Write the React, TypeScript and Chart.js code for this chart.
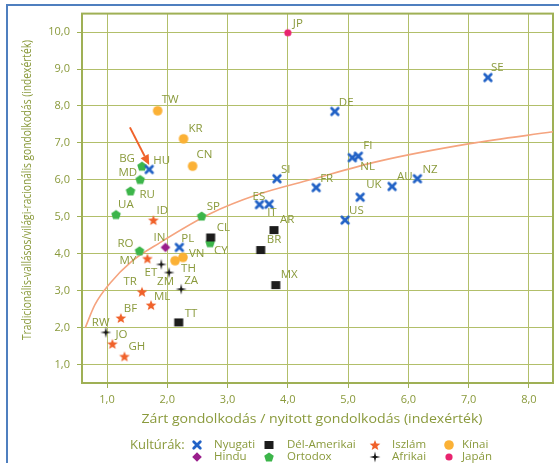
import React, { useEffect, useRef } from 'react';
import { Chart, registerables } from 'chart.js';

Chart.register(...registerables);

// ---------- axis ticks ----------
const X_TICKS = [1, 2, 3, 4, 5, 6, 7, 8];
const X_TICK_LABELS = ['1,0', '2,0', '3,0', '4,0', '5,0', '6,0', '7,0', '8,0'];
const Y_TICKS = [1, 2, 3, 4, 5, 6, 7, 8, 9, 10];
const Y_TICK_LABELS = ['1,0', '2,0', '3,0', '4,0', '5,0', '6,0', '7,0', '8,0', '9,0', '10,0'];

const X_TITLE = 'Zárt gondolkodás / nyitott gondolkodás (indexérték)';
const Y_TITLE = 'Tradicionális-vallásos/világi-racionális gondolkodás (indexérték)';
const LEGEND_TITLE = 'Kultúrák:';

// ---------- series ----------
const nyugatiCodes = ['HU', 'SI', 'DE', 'SE', 'FI', 'NL', 'FR', 'AU', 'NZ', 'UK', 'US', 'ES', 'IT', 'PL'];
const nyugatiX = [1.70, 3.82, 4.78, 7.32, 5.17, 5.07, 4.47, 5.73, 6.15, 5.20, 4.95, 3.53, 3.69, 2.20];
const nyugatiY = [6.28, 6.03, 7.85, 8.77, 6.64, 6.60, 5.79, 5.82, 6.03, 5.53, 4.91, 5.33, 5.34, 4.17];

const delAmCodes = ['AR', 'BR', 'MX', 'CL', 'TT'];
const delAmX = [3.77, 3.55, 3.80, 2.72, 2.19];
const delAmY = [4.64, 4.10, 3.15, 4.44, 2.14];

const iszlamCodes = ['ID', 'MY', 'TR', 'ML', 'BF', 'JO', 'GH'];
const iszlamX = [1.77, 1.67, 1.58, 1.73, 1.23, 1.09, 1.29];
const iszlamY = [4.91, 3.87, 2.97, 2.61, 2.26, 1.56, 1.22];

const kinaiCodes = ['TW', 'KR', 'CN', 'VN', 'TH'];
const kinaiX = [1.84, 2.27, 2.42, 2.26, 2.13];
const kinaiY = [7.87, 7.11, 6.37, 3.90, 3.81];

const hinduCodes = ['IN'];
const hinduX = [1.97];
const hinduY = [4.17];

const ortodoxCodes = ['BG', 'MD', 'RU', 'UA', 'SP', 'CY', 'RO'];
const ortodoxX = [1.58, 1.55, 1.39, 1.15, 2.57, 2.71, 1.54];
const ortodoxY = [6.37, 6.01, 5.70, 5.06, 5.02, 4.30, 4.08];

const afrikaiCodes = ['ET', 'ZM', 'ZA', 'RW'];
const afrikaiX = [1.90, 2.03, 2.23, 0.98];
const afrikaiY = [3.71, 3.49, 3.04, 1.87];

const japanCodes = ['JP'];
const japanX = [4.0];
const japanY = [9.98];

// trend curve
const trendX = [0.64, 0.8, 1.05, 1.4, 1.88, 2.71, 3.5, 4.37, 5.5, 7.02, 8.4];
const trendY = [2.0, 2.62, 3.2, 3.78, 4.3, 5.08, 5.6, 6.0, 6.5, 6.98, 7.3];

// annotation arrow (start, tip)
const arrowX = [1.38, 1.70];
const arrowY = [7.42, 6.40];

// ---------- styles ----------
const OLIVE_TEXT = '#8a9a3c';
const GRID = '#b2bf6a';
const BORDER = '#9fb055';
const FONT = '"Open Sans", "DejaVu Sans", sans-serif';

// label placement: dx, dy, align
const LABEL_POS: Record<string, [number, number, 'left' | 'right']> = {
  JP: [5, -9, 'left'], TW: [4, -11, 'left'], KR: [5, -10, 'left'], CN: [4, -11, 'left'],
  BG: [-7, -7, 'right'], HU: [4, -9, 'left'], MD: [-3, -7, 'right'], RU: [9, 4, 'left'],
  SI: [4, -9, 'left'], ES: [-7, -8, 'left'], DE: [4, -9, 'left'], SE: [3, -10, 'left'],
  FI: [5, -10, 'left'], NL: [8, 9, 'left'], FR: [4, -9, 'left'], AU: [5, -10, 'left'],
  NZ: [5, -9, 'left'], UK: [6, -12, 'left'], US: [4, -9, 'left'], IT: [-2, 9, 'left'],
  AR: [6, -10, 'left'], BR: [6, -10, 'left'], MX: [5, -10, 'left'], CL: [6, -10, 'left'],
  CY: [4, 8, 'left'], SP: [5, -9, 'left'], UA: [2, -10, 'left'], ID: [3, -9, 'left'],
  IN: [0, -10, 'right'], PL: [2, -9, 'left'], VN: [6, -4, 'left'], TH: [6, 8, 'left'],
  RO: [-6, -7, 'right'], MY: [-11, 2, 'right'], ET: [-4, 8, 'right'], ZM: [-12, 9, 'left'],
  ZA: [3, -8, 'left'], TR: [-5, -10, 'right'], ML: [3, -8, 'left'], TT: [6, -9, 'left'],
  BF: [3, -9, 'left'], RW: [-14, -10, 'left'], JO: [3, -9, 'left'], GH: [4, -10, 'left'],
};

type Kind = 'cross' | 'square' | 'star' | 'circle' | 'diamond' | 'pentagon' | 'sparkle' | 'dot';

function polygon(g: CanvasRenderingContext2D, cx: number, cy: number, n: number, ro: number, ri: number | null) {
  g.beginPath();
  const steps = ri === null ? n : n * 2;
  for (let i = 0; i < steps; i++) {
    const r = ri === null ? ro : (i % 2 === 0 ? ro : ri);
    const a = -Math.PI / 2 + (i * 2 * Math.PI) / steps;
    const px = cx + r * Math.cos(a);
    const py = cy + r * Math.sin(a);
    if (i === 0) g.moveTo(px, py); else g.lineTo(px, py);
  }
  g.closePath();
}

function makeMarker(kind: Kind, color: string): HTMLCanvasElement {
  const c = document.createElement('canvas');
  const s = 12;
  c.width = s; c.height = s;
  const g = c.getContext('2d')!;
  const m = s / 2;
  g.fillStyle = color;
  g.strokeStyle = color;
  switch (kind) {
    case 'cross':
      g.lineWidth = 2.8;
      g.lineCap = 'round';
      g.beginPath();
      g.moveTo(m - 3.3, m - 3.3); g.lineTo(m + 3.3, m + 3.3);
      g.moveTo(m + 3.3, m - 3.3); g.lineTo(m - 3.3, m + 3.3);
      g.stroke();
      break;
    case 'square':
      g.fillRect(m - 4.5, m - 4, 9, 8);
      break;
    case 'star':
      polygon(g, m, m + 0.5, 5, 5.6, 2.4);
      g.fill();
      break;
    case 'circle':
      g.beginPath(); g.arc(m, m, 4.8, 0, Math.PI * 2); g.fill();
      break;
    case 'dot':
      g.beginPath(); g.arc(m, m, 3.6, 0, Math.PI * 2); g.fill();
      break;
    case 'diamond':
      g.beginPath();
      g.moveTo(m, m - 4.8); g.lineTo(m + 4.8, m); g.lineTo(m, m + 4.8); g.lineTo(m - 4.8, m);
      g.closePath(); g.fill();
      break;
    case 'pentagon':
      polygon(g, m, m + 0.4, 5, 5, null);
      g.fill();
      break;
    case 'sparkle':
      polygon(g, m, m, 4, 5.5, 1.4);
      g.fill();
      break;
  }
  return c;
}

interface Group {
  name: string;
  codes: string[];
  xs: number[];
  ys: number[];
  kind: Kind;
  color: string;
}

const GROUPS: Group[] = [
  { name: 'Nyugati', codes: nyugatiCodes, xs: nyugatiX, ys: nyugatiY, kind: 'cross', color: '#2262c6' },
  { name: 'Dél-Amerikai', codes: delAmCodes, xs: delAmX, ys: delAmY, kind: 'square', color: '#1c1c1c' },
  { name: 'Iszlám', codes: iszlamCodes, xs: iszlamX, ys: iszlamY, kind: 'star', color: '#f0612a' },
  { name: 'Kínai', codes: kinaiCodes, xs: kinaiX, ys: kinaiY, kind: 'circle', color: '#fbb136' },
  { name: 'Hindu', codes: hinduCodes, xs: hinduX, ys: hinduY, kind: 'diamond', color: '#9a1e8c' },
  { name: 'Ortodox', codes: ortodoxCodes, xs: ortodoxX, ys: ortodoxY, kind: 'pentagon', color: '#3cb54a' },
  { name: 'Afrikai', codes: afrikaiCodes, xs: afrikaiX, ys: afrikaiY, kind: 'sparkle', color: '#141414' },
  { name: 'Japán', codes: japanCodes, xs: japanX, ys: japanY, kind: 'dot', color: '#e8246f' },
];

export default function App() {
  const ref = useRef<HTMLCanvasElement | null>(null);

  useEffect(() => {
    const canvas = ref.current;
    if (!canvas) return;

    const markers = GROUPS.map((g) => makeMarker(g.kind, g.color));

    const datasets: any[] = GROUPS.map((g, gi) => ({
      label: g.name,
      data: g.xs.map((x, i) => ({ x, y: g.ys[i] })),
      pointStyle: markers[gi],
      pointRadius: 5,
      pointHoverRadius: 5,
      showLine: false,
      order: 1,
    }));

    datasets.push({
      label: 'trend',
      type: 'line',
      data: trendX.map((x, i) => ({ x, y: trendY[i] })),
      borderColor: '#f5a47f',
      borderWidth: 1.6,
      pointRadius: 0,
      fill: false,
      showLine: true,
      cubicInterpolationMode: 'monotone',
      order: 10,
    });

    const decor = {
      id: 'decor',
      beforeDatasetsDraw(chart: any) {
        const { ctx, chartArea: a } = chart;
        ctx.save();
        ctx.strokeStyle = BORDER;
        ctx.lineWidth = 2;
        ctx.strokeRect(a.left, a.top, a.right - a.left, a.bottom - a.top);
        ctx.restore();
      },
      afterDatasetsDraw(chart: any) {
        const { ctx } = chart;
        const xs = chart.scales.x;
        const ys = chart.scales.y;
        // point labels
        ctx.save();
        ctx.fillStyle = OLIVE_TEXT;
        ctx.font = `11.5px ${FONT}`;
        ctx.textBaseline = 'middle';
        GROUPS.forEach((g, gi) => {
          const meta = chart.getDatasetMeta(gi);
          g.codes.forEach((code, i) => {
            const el = meta.data[i];
            const p = LABEL_POS[code] || [4, -9, 'left'];
            ctx.textAlign = p[2];
            ctx.fillText(code, el.x + p[0], el.y + p[1]);
          });
        });
        ctx.restore();

        // arrow
        const x1 = xs.getPixelForValue(arrowX[0]);
        const y1 = ys.getPixelForValue(arrowY[0]);
        const x2 = xs.getPixelForValue(arrowX[1]);
        const y2 = ys.getPixelForValue(arrowY[1]);
        const ang = Math.atan2(y2 - y1, x2 - x1);
        const hl = 10, hw = 4.5;
        const bx = x2 - hl * Math.cos(ang);
        const by = y2 - hl * Math.sin(ang);
        ctx.save();
        ctx.strokeStyle = '#f0632b';
        ctx.fillStyle = '#f0632b';
        ctx.lineWidth = 2;
        ctx.beginPath();
        ctx.moveTo(x1, y1);
        ctx.lineTo(bx, by);
        ctx.stroke();
        ctx.beginPath();
        ctx.moveTo(x2, y2);
        ctx.lineTo(bx + hw * Math.sin(ang), by - hw * Math.cos(ang));
        ctx.lineTo(bx - hw * Math.sin(ang), by + hw * Math.cos(ang));
        ctx.closePath();
        ctx.fill();
        ctx.restore();
      },
      afterDraw(chart: any) {
        const { ctx, chartArea: a } = chart;
        // frame
        ctx.save();
        ctx.strokeStyle = '#4f7fbf';
        ctx.lineWidth = 2;
        ctx.beginPath();
        ctx.moveTo(7, chart.height);
        ctx.lineTo(7, 5);
        ctx.lineTo(chart.width, 5);
        ctx.stroke();
        ctx.restore();

        // axis titles
        ctx.save();
        ctx.fillStyle = OLIVE_TEXT;
        ctx.textAlign = 'center';
        ctx.textBaseline = 'middle';
        ctx.font = `12.5px ${FONT}`;
        const wx = ctx.measureText(X_TITLE).width;
        ctx.translate(312, 419);
        ctx.scale(341 / wx, 1);
        ctx.fillText(X_TITLE, 0, 0);
        ctx.restore();

        ctx.save();
        ctx.fillStyle = OLIVE_TEXT;
        ctx.textAlign = 'center';
        ctx.textBaseline = 'middle';
        ctx.font = `12px ${FONT}`;
        const wy = ctx.measureText(Y_TITLE).width;
        ctx.translate(28, 190);
        ctx.rotate(-Math.PI / 2);
        ctx.scale(300 / wy, 1);
        ctx.fillText(Y_TITLE, 0, 0);
        ctx.restore();

        // legend
        ctx.save();
        ctx.fillStyle = OLIVE_TEXT;
        ctx.textBaseline = 'middle';
        ctx.textAlign = 'left';
        ctx.font = `13px ${FONT}`;
        ctx.fillText(LEGEND_TITLE, 130, 445);
        ctx.font = `11.5px ${FONT}`;
        const mxs = [197, 269, 375, 449];
        const txs = [214, 287, 392, 462];
        const rows = [445, 457];
        GROUPS.forEach((g, gi) => {
          const col = gi % 4;
          const row = Math.floor(gi / 4);
          const m = markers[gi];
          const y = rows[row];
          ctx.drawImage(m, mxs[col] - m.width / 2, y - m.height / 2);
          ctx.fillText(g.name, txs[col], y);
        });
        ctx.restore();
        void a;
      },
    };

    const chart = new Chart(canvas, {
      type: 'scatter',
      data: { datasets },
      options: {
        animation: false,
        responsive: false,
        devicePixelRatio: 1,
        layout: { padding: { left: 0, top: 13, right: 6, bottom: 0 } },
        plugins: {
          legend: { display: false },
          tooltip: { enabled: false },
        },
        scales: {
          x: {
            type: 'linear',
            min: 0.585,
            max: 8.4,
            afterBuildTicks: (s: any) => { s.ticks = X_TICKS.map((v) => ({ value: v })); },
            afterFit: (s: any) => { s.height = 80; },
            grid: {
              color: GRID,
              lineWidth: 1,
              borderDash: [2, 3],
              drawTicks: true,
              tickLength: 5,
              tickColor: BORDER,
              tickBorderDash: [],
            } as any,
            border: { display: false },
            ticks: {
              color: OLIVE_TEXT,
              font: { family: FONT, size: 11 },
              padding: 5,
              maxRotation: 0,
              callback: (v: any) => X_TICK_LABELS[X_TICKS.indexOf(Number(v))] ?? '',
            },
          },
          y: {
            type: 'linear',
            min: 0.5,
            max: 10.5,
            afterBuildTicks: (s: any) => { s.ticks = Y_TICKS.map((v) => ({ value: v })); },
            afterFit: (s: any) => { s.width = 82; },
            grid: {
              color: GRID,
              lineWidth: 1,
              borderDash: [5, 3],
              drawTicks: true,
              tickLength: 5,
              tickColor: BORDER,
              tickBorderDash: [],
            } as any,
            border: { display: false },
            ticks: {
              color: OLIVE_TEXT,
              font: { family: FONT, size: 11 },
              padding: 7,
              callback: (v: any) => Y_TICK_LABELS[Y_TICKS.indexOf(Number(v))] ?? '',
            },
          },
        },
      },
      plugins: [decor],
    } as any);

    return () => chart.destroy();
  }, []);

  return (
    <canvas
      ref={ref}
      width={559}
      height={463}
      style={{ position: 'absolute', left: 0, top: 0, width: 559, height: 463, background: '#ffffff' }}
    />
  );
}
